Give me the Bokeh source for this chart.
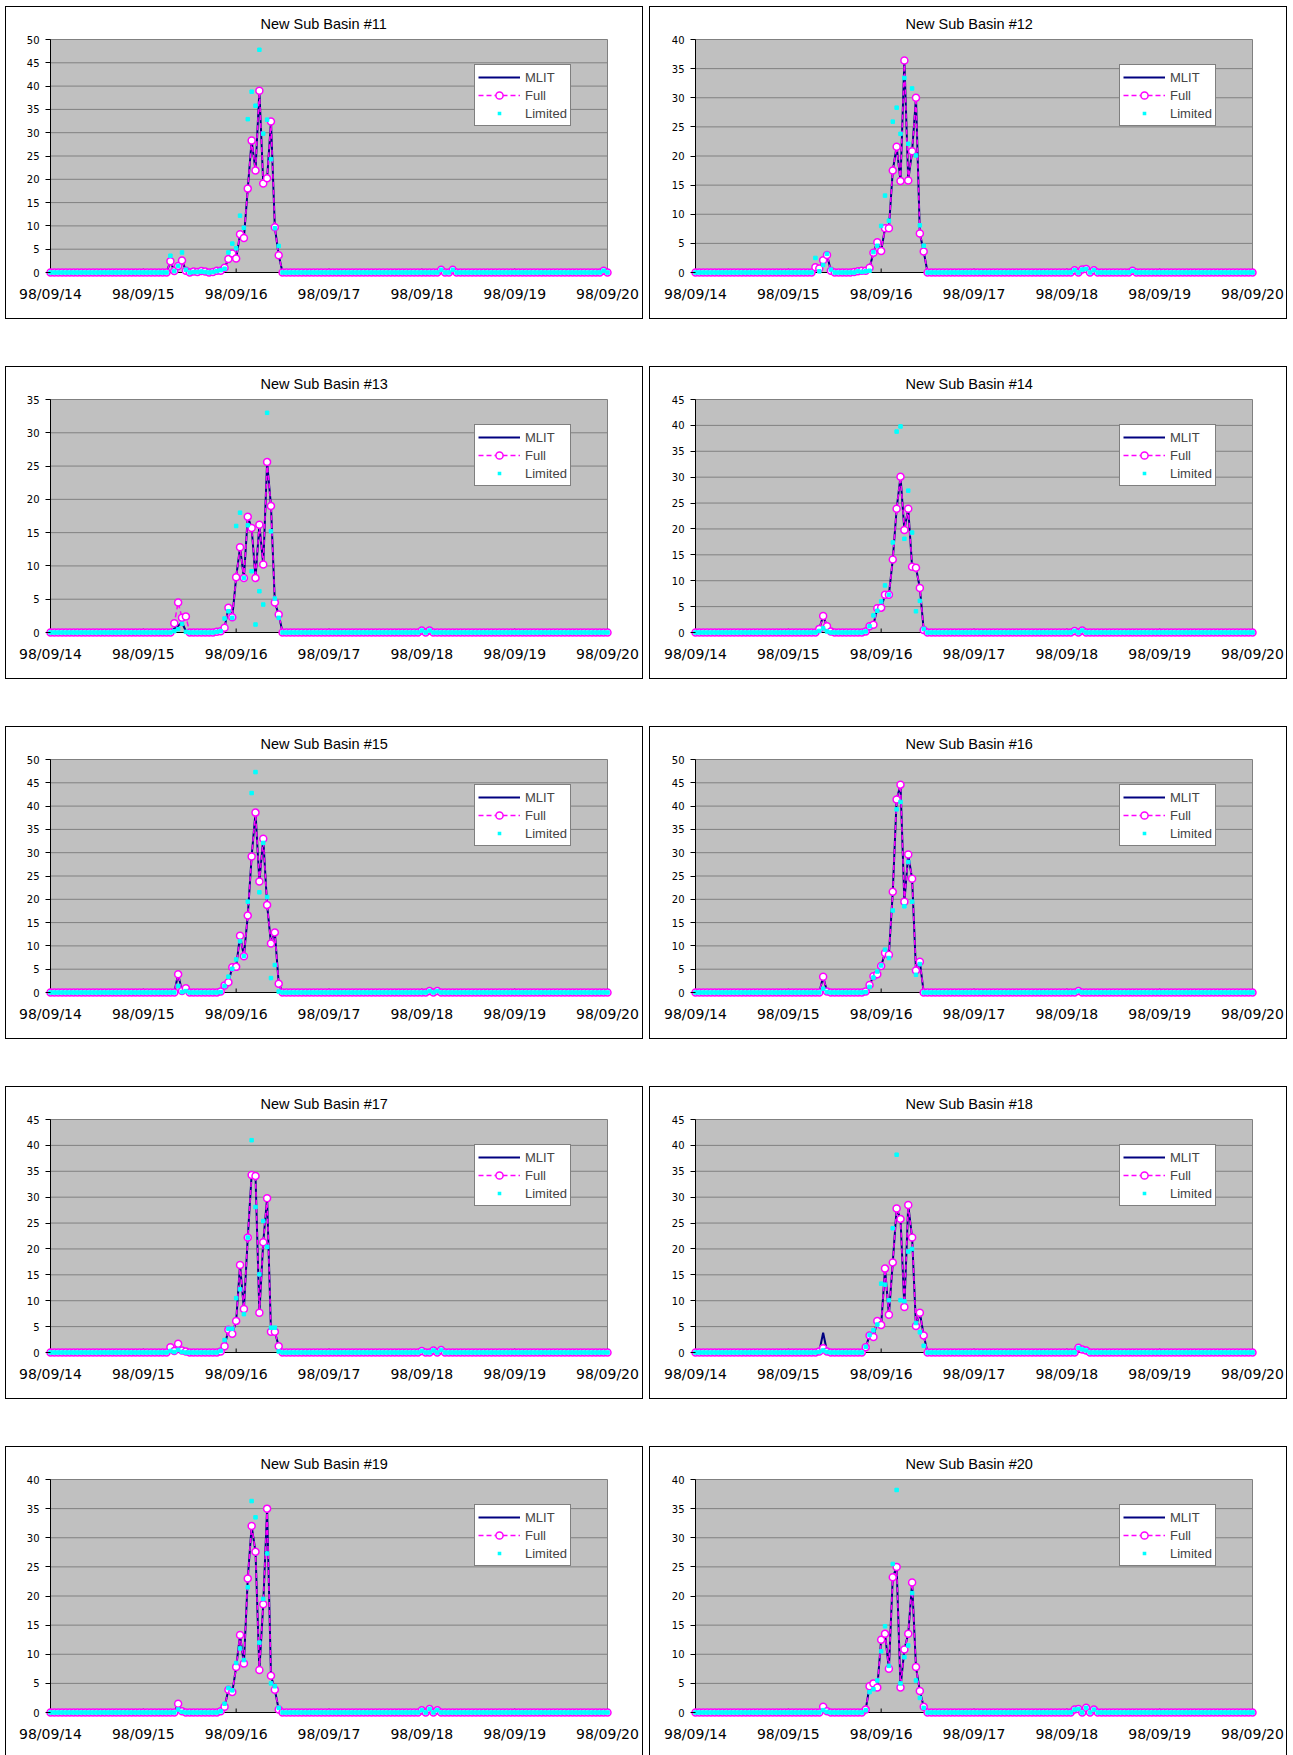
from bokeh.plotting import figure
from bokeh.models import Range1d, FixedTicker, Legend, LegendItem, Spacer
from bokeh.layouts import row, column
from bokeh.embed import file_html
from bokeh.resources import INLINE

# ---------------- data ----------------
HOURS = list(range(145))               # hourly steps 98/09/14 00:00 .. 98/09/20 00:00
DAY_TICKS = [0, 24, 48, 72, 96, 120, 144]
DAY_LABELS = ["98/09/14", "98/09/15", "98/09/16", "98/09/17", "98/09/18", "98/09/19", "98/09/20"]
EVENT_START = 30                       # first hour of the event arrays below (98/09/15 06:00)

BASIN_IDS = [11, 12, 13, 14, 15, 16, 17, 18, 19, 20]
Y_MAX = [50, 40, 35, 45, 50, 50, 45, 45, 40, 40]

# event values, hours 30..60
FULL_11 = [0, 2.4, 0.3, 1.4, 2.6, 0.4, 0, 0.2, 0.1, 0.3, 0.2, 0, 0.1, 0.4, 0.4, 1.0, 2.9, 4.1, 3.0, 8.2, 7.4, 18.0, 28.3, 21.9, 39.0, 19.1, 20.2, 32.4, 9.7, 3.7, 0]
LIM_11 = [0, 3.6, 0.3, 1.4, 4.3, 0.6, 0, 0.1, 0.1, 0.2, 0.1, 0, 0.1, 0.3, 0.5, 0.8, 4.3, 6.2, 5.2, 12.2, 9.6, 32.9, 38.8, 35.8, 47.8, 29.8, 32.8, 24.3, 9.5, 5.7, 0]
FULL_12 = [0, 0.9, 0.7, 2.1, 3.0, 0.3, 0, 0, 0, 0, 0, 0.1, 0.2, 0.3, 0.3, 0.8, 3.4, 5.2, 3.7, 7.6, 7.6, 17.5, 21.6, 15.7, 36.4, 15.8, 20.8, 30.0, 6.7, 3.6, 0]
LIM_12 = [0, 2.5, 0.2, 1.3, 3.2, 0.5, 0, 0, 0, 0, 0, 0, 0.2, 0.1, 0.2, 0.3, 3.5, 4.6, 8.0, 13.2, 8.9, 25.9, 28.3, 23.8, 33.4, 22.1, 31.6, 20.1, 8.1, 4.6, 0]
FULL_13 = [0, 0, 1.4, 4.5, 2.2, 2.4, 0, 0, 0, 0, 0, 0, 0, 0.1, 0.2, 0.7, 3.7, 2.3, 8.3, 12.8, 8.2, 17.4, 15.7, 8.2, 16.2, 10.2, 25.6, 19.0, 4.5, 2.7, 0]
MLIT_13 = [0, 0, 0.6, 1.0, 1.5, 0.2, 0, 0, 0, 0, 0, 0, 0, 0.1, 0.2, 0.7, 3.7, 2.3, 8.3, 12.8, 8.2, 17.4, 15.7, 8.2, 16.2, 10.2, 25.6, 19.0, 4.5, 2.7, 0]
LIM_13 = [0, 0, 0.2, 0.5, 1.3, 0.1, 0, 0, 0, 0, 0, 0, 0, 0.1, 0.2, 2.1, 3.2, 2.2, 16.0, 18.0, 8.2, 16.1, 9.2, 1.2, 6.2, 4.2, 33.0, 15.2, 5.1, 2.2, 0]
FULL_14 = [0, 0, 0.7, 3.2, 1.2, 0.2, 0, 0, 0, 0, 0, 0, 0, 0, 0.2, 1.2, 1.5, 4.7, 4.8, 7.3, 7.3, 14.1, 23.9, 30.1, 19.8, 23.9, 12.7, 12.5, 8.6, 0.5, 0]
LIM_14 = [0, 0, 0.3, 0.8, 0.2, 0, 0, 0, 0, 0, 0, 0, 0, 0, 0.2, 1.2, 3.3, 4.2, 6.0, 9.1, 7.3, 17.4, 38.8, 39.8, 18.1, 27.4, 19.3, 4.1, 6.1, 0.7, 0]
FULL_15 = [0, 0, 0, 3.9, 0.3, 0.9, 0, 0, 0, 0, 0, 0, 0, 0, 0.2, 1.5, 2.2, 5.4, 5.5, 12.2, 7.8, 16.5, 29.2, 38.6, 23.8, 33.0, 18.8, 10.5, 12.9, 1.9, 0]
LIM_15 = [0, 0, 0, 1.4, 0.1, 0.3, 0, 0, 0, 0, 0, 0, 0, 0, 0.1, 1.4, 3.4, 5.1, 7.1, 11.0, 7.8, 19.5, 42.8, 47.3, 21.5, 32.1, 20.5, 3.1, 5.9, 0.2, 0]
FULL_16 = [0, 0, 0, 3.4, 0.2, 0, 0, 0, 0, 0, 0, 0, 0, 0, 0.2, 1.6, 3.5, 3.9, 5.7, 8.5, 8.1, 21.6, 41.4, 44.6, 19.5, 29.6, 24.4, 4.7, 6.6, 0, 0]
LIM_16 = [0, 0, 0, 0.8, 0.1, 0, 0, 0, 0, 0, 0, 0, 0, 0, 0.1, 1.2, 3.2, 4.5, 5.8, 9.2, 7.4, 17.6, 39.3, 40.9, 18.5, 28.0, 19.5, 3.8, 6.1, 0, 0]
FULL_17 = [0, 1.0, 0.3, 1.7, 0.4, 0.2, 0, 0, 0, 0, 0, 0, 0, 0, 0.2, 1.2, 4.4, 3.6, 6.1, 16.9, 8.4, 22.2, 34.3, 34.1, 7.7, 21.3, 29.8, 4.0, 4.0, 1.2, 0]
LIM_17 = [0, 0.3, 0.1, 0.5, 0.1, 0, 0, 0, 0, 0, 0, 0, 0, 0, 0.3, 2.4, 4.6, 4.6, 10.5, 12.2, 7.4, 22.2, 41.0, 28.1, 15.1, 25.4, 20.4, 4.8, 4.8, 0.2, 0]
FULL_18 = [0, 0, 0.2, 0.8, 0.2, 0, 0, 0, 0, 0, 0, 0, 0, 0, 1.0, 3.3, 3.0, 6.1, 5.3, 16.2, 7.3, 17.4, 27.8, 25.8, 8.8, 28.5, 22.2, 5.1, 7.7, 3.3, 0]
MLIT_18 = [0, 0, 0.2, 3.8, 0.2, 0, 0, 0, 0, 0, 0, 0, 0, 0, 1.0, 3.3, 3.0, 6.1, 5.3, 16.2, 7.3, 17.4, 27.8, 25.8, 8.8, 28.5, 22.2, 5.1, 7.7, 3.3, 0]
LIM_18 = [0, 0, 0.1, 0.4, 0.1, 0, 0, 0, 0, 0, 0, 0, 0, 0, 1.1, 3.4, 4.3, 5.4, 13.3, 13.1, 10.1, 24.0, 38.2, 10.1, 9.9, 19.5, 20.0, 5.7, 3.9, 1.3, 0]
FULL_19 = [0, 0, 0, 1.5, 0.2, 0, 0, 0, 0, 0, 0, 0, 0, 0, 0.2, 1.0, 3.9, 3.5, 7.8, 13.3, 8.4, 23.0, 32.0, 27.6, 7.3, 18.6, 35.0, 6.3, 3.9, 0.5, 0]
LIM_19 = [0, 0, 0, 0.5, 0.1, 0, 0, 0, 0, 0, 0, 0, 0, 0, 0.2, 1.5, 4.2, 3.8, 8.5, 11.0, 9.0, 21.5, 36.3, 33.5, 12.0, 19.5, 27.3, 5.0, 4.5, 0.8, 0]
FULL_20 = [0, 0, 0, 1.0, 0.2, 0, 0, 0, 0, 0, 0, 0, 0, 0, 0.5, 4.5, 5.0, 4.3, 12.5, 13.5, 7.5, 23.2, 25.0, 4.3, 10.8, 13.5, 22.3, 7.8, 3.7, 1.0, 0]
LIM_20 = [0, 0, 0, 0.4, 0.1, 0, 0, 0, 0, 0, 0, 0, 0, 0, 0.4, 3.5, 4.0, 5.5, 10.5, 14.8, 8.0, 25.5, 38.2, 5.0, 9.5, 11.5, 20.5, 5.5, 2.5, 0.8, 0]

# small late values around 98/09/18 (hour, value)
LATE_11 = [(101, 0.6), (104, 0.6), (143, 0.4)]
LATE_12 = [(98, 0.4), (100, 0.5), (101, 0.6), (103, 0.4), (113, 0.3)]
LATE_13 = [(96, 0.3), (98, 0.3)]
LATE_14 = [(98, 0.3), (100, 0.4)]
LATE_15 = [(98, 0.3), (100, 0.3)]
LATE_16 = [(99, 0.3)]
LATE_17 = [(96, 0.3), (99, 0.4), (101, 0.5)]
LATE_18 = [(99, 0.9), (100, 0.6), (101, 0.4)]
LATE_19 = [(96, 0.4), (98, 0.6), (100, 0.4)]
LATE_20 = [(98, 0.5), (99, 0.6), (101, 0.8), (103, 0.5)]

SERIES = [
    (FULL_11, FULL_11, LIM_11, LATE_11),
    (FULL_12, FULL_12, LIM_12, LATE_12),
    (FULL_13, MLIT_13, LIM_13, LATE_13),
    (FULL_14, FULL_14, LIM_14, LATE_14),
    (FULL_15, FULL_15, LIM_15, LATE_15),
    (FULL_16, FULL_16, LIM_16, LATE_16),
    (FULL_17, FULL_17, LIM_17, LATE_17),
    (FULL_18, MLIT_18, LIM_18, LATE_18),
    (FULL_19, FULL_19, LIM_19, LATE_19),
    (FULL_20, FULL_20, LIM_20, LATE_20),
]


def expand(event, late):
    vals = [0.0] * len(HOURS)
    for i, v in enumerate(event):
        vals[EVENT_START + i] = v
    for h, v in late:
        vals[h] = v
    return vals


# ---------------- styling ----------------
PAD = 5          # px of white space around the grey plot area (so markers are not clipped)
FRAME_W = 557    # grey plot area width in px
FRAME_H = 233    # grey plot area height in px
PANEL_W = 636
PANEL_H = 311
LAST_H = 308
TOP_B = 27
LEG_H = 60


def make_panel(num, full_ev, mlit_ev, lim_ev, late, ymax, last_row, right_col):
    full = expand(full_ev, late)
    mlit = expand(mlit_ev, late)
    lim = expand(lim_ev, late)
    dx = 144.0 / FRAME_W
    dy = ymax / FRAME_H
    height = LAST_H if last_row else PANEL_H
    left_b = 40 if right_col else 39
    p = figure(width=PANEL_W, height=height, output_backend="svg", toolbar_location=None,
               x_range=Range1d(-PAD * dx, 144 + PAD * dx),
               y_range=Range1d(-PAD * dy, ymax + PAD * dy),
               min_border_left=left_b,
               min_border_right=PANEL_W - left_b - (FRAME_W + 2 * PAD),
               min_border_top=TOP_B,
               min_border_bottom=height - TOP_B - (FRAME_H + 2 * PAD))
    p.background_fill_color = "white"
    p.border_fill_color = "white"
    p.outline_line_color = None
    p.xgrid.visible = False
    p.ygrid.visible = False
    p.styles = {"box-shadow": "0 0 0 1px black"}

    p.title.text = "New Sub Basin #%d" % num
    p.title.align = "left"
    p.title.offset = 215
    p.title.text_font = "Liberation Sans"
    p.title.text_font_size = "14.5px"
    p.title.text_font_style = "normal"
    p.title.text_color = "black"
    p.title.standoff = 6

    # grey plot area with gridlines and axis lines
    p.quad(left=[0], right=[144], bottom=[0], top=[ymax],
           fill_color="#C0C0C0", line_color="#808080", line_width=1)
    gy = list(range(5, ymax, 5))
    p.segment(x0=[0] * len(gy), x1=[144] * len(gy), y0=gy, y1=gy,
              line_color="#808080", line_width=1)
    p.segment(x0=[0], x1=[0], y0=[0], y1=[ymax], line_color="black", line_width=1)
    p.segment(x0=[0], x1=[144], y0=[0], y1=[0], line_color="black", line_width=1)
    p.segment(x0=DAY_TICKS, x1=DAY_TICKS, y0=[0] * 7, y1=[4 * dy] * 7,
              line_color="black", line_width=1)

    # axes
    xa = p.xaxis[0]
    xa.ticker = FixedTicker(ticks=DAY_TICKS)
    xa.major_label_overrides = {t: l for t, l in zip(DAY_TICKS, DAY_LABELS)}
    xa.axis_line_color = None
    xa.major_tick_line_color = None
    xa.minor_tick_line_color = None
    xa.major_label_standoff = 2
    xa.major_label_text_font = "DejaVu Sans"
    xa.major_label_text_font_size = "14px"
    xa.major_label_text_color = "black"

    ya = p.yaxis[0]
    ya.ticker = FixedTicker(ticks=list(range(0, ymax + 1, 5)))
    ya.axis_line_color = None
    ya.major_tick_in = PAD
    ya.major_tick_out = 0
    ya.major_tick_line_color = "black"
    ya.minor_tick_line_color = None
    ya.major_label_standoff = 6
    ya.major_label_text_font = "DejaVu Sans"
    ya.major_label_text_font_size = "10px"
    ya.major_label_text_color = "black"

    # series
    r_mlit = p.line(HOURS, mlit, line_color="#000080", line_width=2)
    r_full_l = p.line(HOURS, full, line_color="#FF00FF", line_width=1.5, line_dash="5 3")
    r_full_m = p.scatter(HOURS, full, marker="circle", size=7, fill_color="white",
                         line_color="#FF00FF", line_width=1.5)
    p.scatter(HOURS, lim, marker="square", size=3.5, fill_color="#00FFFF",
              line_color="#00FFFF")
    # legend swatch for the small "Limited" squares: one point far outside the view;
    # a white rim shrinks the fixed-size legend marker down to a small cyan square
    r_lim_key = p.scatter(x=[-1000], y=[-1000], marker="square", size=7,
                          fill_color="#00FFFF", line_color="white", line_width=3.6)

    legend = Legend(items=[LegendItem(label="MLIT", renderers=[r_mlit]),
                           LegendItem(label="Full", renderers=[r_full_l, r_full_m]),
                           LegendItem(label="Limited", renderers=[r_lim_key])],
                    location=(429, FRAME_H + 2 * PAD - 32 - LEG_H))
    legend.border_line_color = "black"
    legend.border_line_width = 1
    legend.background_fill_color = "white"
    legend.background_fill_alpha = 1.0
    legend.label_text_font = "Liberation Sans"
    legend.label_text_font_size = "13px"
    legend.glyph_width = 42
    legend.glyph_height = 18
    legend.label_height = 18
    legend.spacing = 0
    legend.padding = 3
    legend.margin = 0
    legend.label_standoff = 5
    p.add_layout(legend)
    return p


panels = []
for k, num in enumerate(BASIN_IDS):
    f_ev, m_ev, l_ev, late = SERIES[k]
    panels.append(make_panel(num, f_ev, m_ev, l_ev, late, Y_MAX[k], k >= 8, k % 2 == 1))

children = [Spacer(width=10, height=7)]
for i in range(5):
    children.append(row(children=[Spacer(width=6, height=10), panels[2 * i],
                                  Spacer(width=8, height=10), panels[2 * i + 1]], spacing=0))
    if i < 4:
        children.append(Spacer(width=10, height=49))
layout = column(children=children, spacing=0)

open("out.html", "w").write(file_html(layout, INLINE))
